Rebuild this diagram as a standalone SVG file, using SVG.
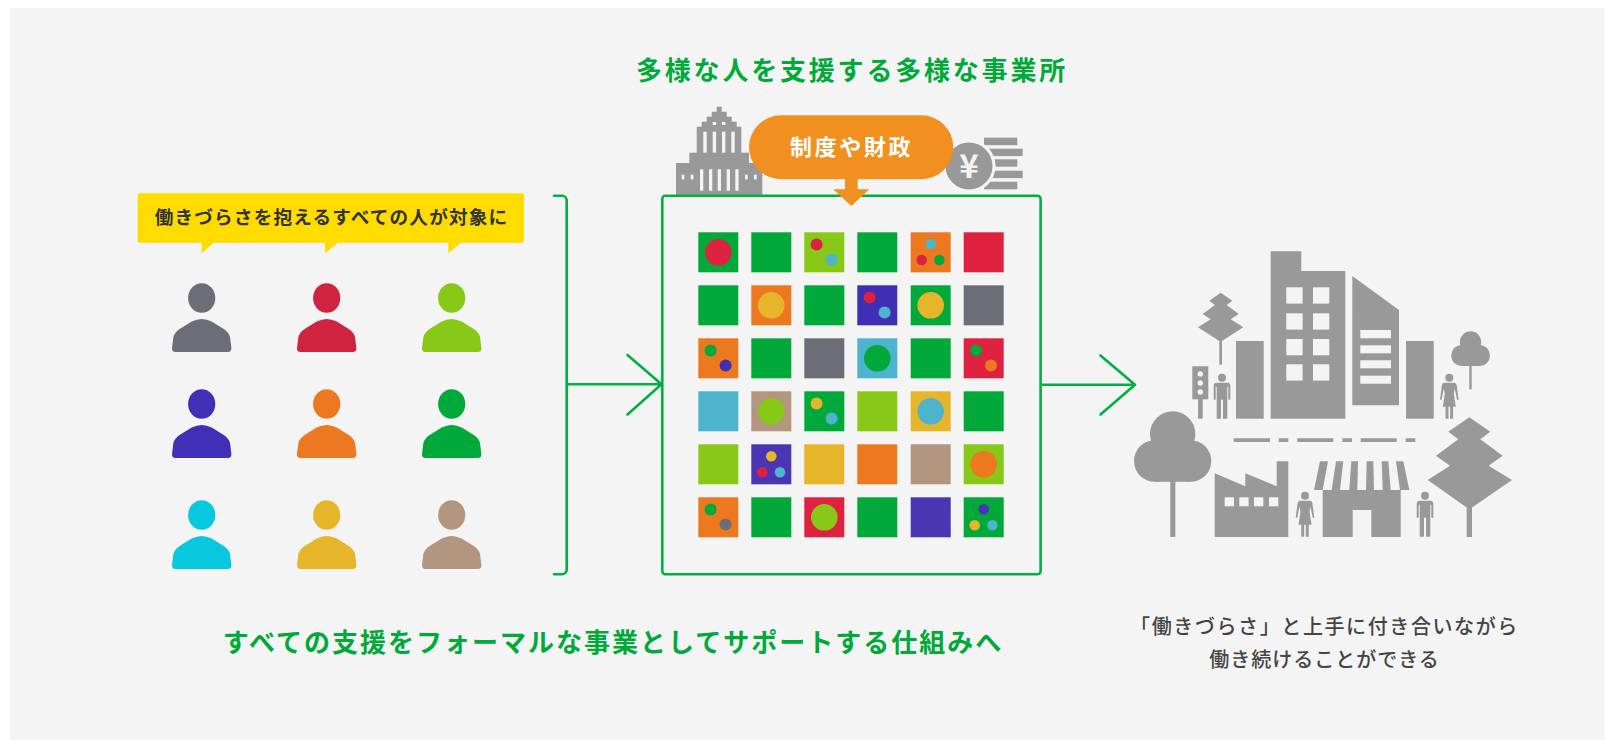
<svg xmlns="http://www.w3.org/2000/svg" xmlns:xlink="http://www.w3.org/1999/xlink" width="1615" height="740" viewBox="0 0 1615 740">
<style>
text{font-family:"Noto Sans CJK JP","Noto Sans",sans-serif;font-weight:700;text-anchor:middle}
.g{fill:#999}
.w{fill:#f4f4f4}
.line{fill:none;stroke:#00b140;stroke-width:2.6;stroke-linecap:round;stroke-linejoin:round}
.tg{fill:#00a93a}
.green{fill:#00a93a}.red{fill:#de213f}.lime{fill:#88c917}.orange{fill:#ec781f}.blue{fill:#3e2fb5}.gray{fill:#6d6d77}.sky{fill:#4eb4ce}.tan{fill:#b39680}.yellow{fill:#e7b52a}.indigo{fill:#4a35b2}
</style>
<defs>
<g id="person"><ellipse cx="0" cy="0" rx="13.6" ry="14.8"/><path d="M-26,54Q-30,54-29.7,50L-28.3,39Q-27,34-21.7,30.7L-10,23.5Q-5,21 0,21Q5,21 10,23.5L21.7,30.7Q27,34 28.3,39L29.7,50Q30,54 26,54Z"/></g>
<g id="man"><circle cx="0" cy="0" r="4"/><path d="M-8.3,8Q-8.3,5-5.5,5H5.5Q8.3,5 8.3,8V22H6.3V9H5.3V41H1V22H-1V41H-5.3V9H-6.3V22H-8.3Z"/></g>
<g id="woman"><circle cx="0" cy="0" r="4"/><path d="M-5,5H5Q7,5 7.5,8L9.3,22H7.7L5.5,11L4.5,16L6.5,29H3.8V41H0.8V29H-0.8V41H-3.8V29H-6.5L-4.5,16L-5.5,11L-7.7,22H-9.3L-7.5,8Q-7,5-5,5Z"/></g>
<rect id="cell" width="40" height="40"/>
</defs>
<rect x="0" y="0" width="1615" height="740" fill="#fff"/>
<rect x="10" y="8" width="1595" height="732" fill="#f4f4f4"/>

<g id="title"><text x="852" y="80" font-size="26" letter-spacing="2.8" class="tg">多様な人を支援する多様な事業所</text></g>

<g id="capitol" class="g">
<rect x="676" y="163" width="86.3" height="32.7"/><rect x="689.3" y="152.7" width="59.7" height="11"/><rect x="696.7" y="126.7" width="44.6" height="26.5"/><rect x="701.7" y="121.7" width="35" height="5.5"/><rect x="706.7" y="116.7" width="25" height="5.5"/><rect x="711.7" y="111.7" width="15" height="5.5"/><rect x="716.7" y="106.7" width="5" height="5.5"/>
<g class="w"><rect x="703.3" y="131.7" width="3.4" height="21"/><rect x="712.7" y="131.7" width="3.4" height="21"/><rect x="722" y="131.7" width="3.4" height="21"/><rect x="731.3" y="131.7" width="3.4" height="21"/><rect x="712.7" y="122" width="3.4" height="3"/><rect x="722" y="122" width="3.4" height="3"/>
<rect x="700" y="169.3" width="3.3" height="21.4"/><rect x="709" y="169.3" width="3.3" height="21.4"/><rect x="717.7" y="169.3" width="3.3" height="21.4"/><rect x="726.7" y="169.3" width="3.3" height="21.4"/><rect x="735.3" y="169.3" width="3.3" height="21.4"/>
<rect x="681.7" y="174.7" width="2.7" height="4.7"/><rect x="690.7" y="174.7" width="2.7" height="4.7"/><rect x="745" y="174.7" width="2.7" height="4.7"/><rect x="754" y="174.7" width="2.7" height="4.7"/></g>
</g>

<g id="coin">
<g class="g"><rect x="984" y="137.7" width="33.3" height="7.5"/><rect x="984" y="148.7" width="38.7" height="7.4"/><rect x="984" y="159.3" width="33.3" height="7.4"/><rect x="984" y="170.7" width="38.7" height="7.4"/><rect x="984" y="181.7" width="33.3" height="7.6"/></g>
<circle cx="969" cy="166" r="25" fill="#999" stroke="#f4f4f4" stroke-width="3"/>
<text x="969" y="178" font-size="33" fill="#f4f4f4">¥</text>
</g>

<g id="program-box">
<rect x="662.3" y="195.7" width="378.3" height="378.6" rx="3" class="line"/>
<g id="grid">
<g transform="translate(698.3,232.3)"><use href="#cell" class="green"/><circle cx="20" cy="20" r="13.3" class="red"/></g>
<g transform="translate(751.3,232.3)"><use href="#cell" class="green"/></g>
<g transform="translate(804.3,232.3)"><use href="#cell" class="lime"/><circle cx="12.3" cy="12.3" r="6" class="red"/><circle cx="27.3" cy="27.3" r="6" class="sky"/></g>
<g transform="translate(857.3,232.3)"><use href="#cell" class="green"/></g>
<g transform="translate(910.7,232.3)"><use href="#cell" class="orange"/><circle cx="20" cy="11.7" r="5.3" class="sky"/><circle cx="11" cy="27.7" r="5.3" class="red"/><circle cx="28.7" cy="27.7" r="5.3" class="green"/></g>
<g transform="translate(963.7,232.3)"><use href="#cell" class="red"/></g>

<g transform="translate(698.3,285.3)"><use href="#cell" class="green"/></g>
<g transform="translate(751.3,285.3)"><use href="#cell" class="orange"/><circle cx="20" cy="20" r="13.3" class="yellow"/></g>
<g transform="translate(804.3,285.3)"><use href="#cell" class="green"/></g>
<g transform="translate(857.3,285.3)"><use href="#cell" class="blue"/><circle cx="12.3" cy="12.3" r="6" class="red"/><circle cx="27.3" cy="27.3" r="6" class="sky"/></g>
<g transform="translate(910.7,285.3)"><use href="#cell" class="green"/><circle cx="20" cy="20" r="13.3" class="yellow"/></g>
<g transform="translate(963.7,285.3)"><use href="#cell" class="gray"/></g>

<g transform="translate(698.3,338.3)"><use href="#cell" class="orange"/><circle cx="12.3" cy="12.3" r="6" class="green"/><circle cx="27.3" cy="27.3" r="6" class="blue"/></g>
<g transform="translate(751.3,338.3)"><use href="#cell" class="green"/></g>
<g transform="translate(804.3,338.3)"><use href="#cell" class="gray"/></g>
<g transform="translate(857.3,338.3)"><use href="#cell" class="sky"/><circle cx="20" cy="20" r="13.3" class="green"/></g>
<g transform="translate(910.7,338.3)"><use href="#cell" class="green"/></g>
<g transform="translate(963.7,338.3)"><use href="#cell" class="red"/><circle cx="12.3" cy="12.3" r="6" class="green"/><circle cx="27.3" cy="27.3" r="6" class="orange"/></g>

<g transform="translate(698.3,391.3)"><use href="#cell" class="sky"/></g>
<g transform="translate(751.3,391.3)"><use href="#cell" class="tan"/><circle cx="20" cy="20" r="13.3" class="lime"/></g>
<g transform="translate(804.3,391.3)"><use href="#cell" class="green"/><circle cx="12.3" cy="12.3" r="6" class="yellow"/><circle cx="27.3" cy="27.3" r="6" class="sky"/></g>
<g transform="translate(857.3,391.3)"><use href="#cell" class="lime"/></g>
<g transform="translate(910.7,391.3)"><use href="#cell" class="yellow"/><circle cx="20" cy="20" r="13.3" class="sky"/></g>
<g transform="translate(963.7,391.3)"><use href="#cell" class="green"/></g>

<g transform="translate(698.3,444.3)"><use href="#cell" class="lime"/></g>
<g transform="translate(751.3,444.3)"><use href="#cell" class="indigo"/><circle cx="20" cy="12" r="5.3" class="yellow"/><circle cx="11" cy="28" r="5.3" class="red"/><circle cx="28.7" cy="28" r="5.3" class="sky"/></g>
<g transform="translate(804.3,444.3)"><use href="#cell" class="yellow"/></g>
<g transform="translate(857.3,444.3)"><use href="#cell" class="orange"/></g>
<g transform="translate(910.7,444.3)"><use href="#cell" class="tan"/></g>
<g transform="translate(963.7,444.3)"><use href="#cell" class="lime"/><circle cx="20" cy="20" r="13.3" class="orange"/></g>

<g transform="translate(698.3,497.3)"><use href="#cell" class="orange"/><circle cx="12.3" cy="12.3" r="6" class="green"/><circle cx="27.3" cy="27.3" r="6" class="gray"/></g>
<g transform="translate(751.3,497.3)"><use href="#cell" class="green"/></g>
<g transform="translate(804.3,497.3)"><use href="#cell" class="red"/><circle cx="20" cy="20" r="13.3" class="lime"/></g>
<g transform="translate(857.3,497.3)"><use href="#cell" class="green"/></g>
<g transform="translate(910.7,497.3)"><use href="#cell" class="indigo"/></g>
<g transform="translate(963.7,497.3)"><use href="#cell" class="green"/><circle cx="20" cy="12" r="5.3" class="indigo"/><circle cx="11" cy="28" r="5.3" class="yellow"/><circle cx="28.7" cy="28" r="5.3" class="sky"/></g>
</g>
</g>

<g id="policy-bubble">
<path d="M845,175H857.7V189.3H869.3L851.3,206L833.3,189.3H845Z" fill="#f18f1f"/>
<rect x="749" y="115.3" width="204.3" height="64" rx="32" fill="#f18f1f"/>
<text x="851.5" y="154.5" font-size="22" letter-spacing="2.6" fill="#fff">制度や財政</text>
</g>

<g id="target-banner">
<path d="M139.7,193.3H522a2,2 0 0 1 2,2V240.7a2,2 0 0 1-2,2H461L448.3,253.3V242.7H337.7L325,253.3V242.7H213.7L201.7,253.3V242.7H139.7a2,2 0 0 1-2-2V195.3a2,2 0 0 1 2-2Z" fill="#ffdc00"/>
<text x="331.5" y="224" font-size="18.6" letter-spacing="1.2" fill="#333">働きづらさを抱えるすべての人が対象に</text>
</g>

<g id="people">
<use id="p1" href="#person" x="201.7" y="298" class="gray"/>
<use id="p2" href="#person" x="326.7" y="298" fill="#cf233f"/>
<use id="p3" href="#person" x="451.7" y="298" class="lime"/>
<use id="p4" href="#person" x="201.7" y="404" fill="#412fb8"/>
<use id="p5" href="#person" x="326.7" y="404" class="orange"/>
<use id="p6" href="#person" x="451.7" y="404" class="green"/>
<use id="p7" href="#person" x="201.7" y="515" fill="#07c8de"/>
<use id="p8" href="#person" x="326.7" y="515" class="yellow"/>
<use id="p9" href="#person" x="451.7" y="515" class="tan"/>
</g>

<g id="connectors">
<path class="line" d="M554,195.7H562a4.7,4.7 0 0 1 4.7,4.7V569.6a4.7,4.7 0 0 1-4.7,4.7H554"/>
<path class="line" d="M567,384.3H661M627.5,355L661.5,384.3L627.5,414.5"/>
<path class="line" d="M1041,384.7H1134M1100.5,355.5L1135,384.7L1100.5,414.5"/>
</g>

<g id="city" class="g">
<path d="M1270.7,251.3H1301.3V271H1345.3V418.7H1270.7Z"/>
<g class="w"><rect x="1286.3" y="287.3" width="16.3" height="16.3"/><rect x="1313" y="287.3" width="16.3" height="16.3"/><rect x="1286.3" y="313.3" width="16.3" height="16.3"/><rect x="1313" y="313.3" width="16.3" height="16.3"/><rect x="1286.3" y="339" width="16.3" height="16.3"/><rect x="1313" y="339" width="16.3" height="16.3"/><rect x="1286.3" y="364.3" width="16.3" height="16.3"/><rect x="1313" y="364.3" width="16.3" height="16.3"/></g>
<path d="M1352.3,276L1399,310V405.3H1352.3Z"/>
<g class="w"><rect x="1360.3" y="330" width="30.7" height="8.3"/><rect x="1360.3" y="345.3" width="30.7" height="8"/><rect x="1360.3" y="360.3" width="30.7" height="8"/><rect x="1360.3" y="375.7" width="30.7" height="8"/></g>
<rect x="1236" y="341" width="27.7" height="77.7"/>
<rect x="1406" y="341" width="27.7" height="77.7"/>
<path d="M1220.7,292.7L1232.3,300.7L1226.7,305L1238.7,314L1230.7,319.3L1243.3,327.3L1222,341V364.7H1219.3V341L1198,327.3L1210.7,319.3L1202.7,314L1215,305L1209.3,300.7Z"/>
<rect x="1192.3" y="366.3" width="16" height="33"/><rect x="1198" y="399" width="4.7" height="19.7"/>
<g class="w"><circle cx="1200.3" cy="374" r="2.7"/><circle cx="1200.3" cy="383" r="2.7"/><circle cx="1200.3" cy="392" r="2.7"/></g>
<use href="#man" x="1222" y="377.7"/>
<use href="#woman" x="1449.3" y="377.7"/>
<g><circle cx="1470.5" cy="342" r="10.7"/><circle cx="1461.7" cy="355.5" r="10.5"/><circle cx="1479.5" cy="355.5" r="10.5"/><rect x="1461.7" y="350" width="17.8" height="16"/><rect x="1469.3" y="360" width="2.4" height="29.3"/></g>
<g><circle cx="1172.7" cy="434" r="22.7"/><circle cx="1154.8" cy="461" r="20.8"/><circle cx="1190.5" cy="461" r="20.8"/><rect x="1155" y="450" width="36" height="31.8"/><rect x="1170.3" y="480" width="5" height="57"/></g>
<path d="M1233.7,438.3H1270V442H1233.7ZM1278.7,438.3H1288.3V442H1278.7ZM1297.3,438.3H1333.3V442H1297.3ZM1342.3,438.3H1352V442H1342.3ZM1360.7,438.3H1396.7V442H1360.7ZM1405.7,438.3H1415.3V442H1405.7Z"/>
<path d="M1214.7,473.3L1245.3,486.3V473.3L1276.7,486.3V461.3H1288.3V537H1214.7Z"/>
<g class="w"><rect x="1224.7" y="497.3" width="9.3" height="9"/><rect x="1239.3" y="497.3" width="9.3" height="9"/><rect x="1254" y="497.3" width="9.3" height="9"/><rect x="1269" y="497.3" width="9.3" height="9"/></g>
<use href="#woman" x="1305" y="495.7"/>
<path d="M1322.7,490H1400.7V537H1371.3V510H1352.7V537H1322.7Z"/>
<path d="M1320,461.3H1328L1322.7,490H1314ZM1336,461.3H1343.3L1340,490H1331.7ZM1351.3,461.3H1358L1357.3,490H1349.3ZM1366.7,461.3H1373.3L1374,490H1366ZM1381.7,461.3H1388.3L1390.7,490H1382.7ZM1396,461.3H1403.3L1409.3,490H1400Z"/>
<use href="#man" x="1425" y="495.7"/>
<path d="M1469.3,417.3L1490.3,431.7L1480.3,439.3L1502.6,455.7L1488.6,465.7L1512,480L1472,507.5V537H1466.7V507.5L1427.7,480L1450,465.7L1436,455.7L1458.3,439.3L1448.3,431.7Z"/>
</g>

<g id="caption-left"><text x="613" y="652" font-size="26" letter-spacing="2" class="tg">すべての支援をフォーマルな事業としてサポートする仕組みへ</text></g>
<g id="caption-right" fill="#444"><text x="1324.5" y="633.5" font-size="20" letter-spacing="1.6" font-weight="500" style="font-weight:500">「働きづらさ」と上手に付き合いながら</text><text x="1324.5" y="666.5" font-size="20" letter-spacing="1" style="font-weight:500">働き続けることができる</text></g>
</svg>
